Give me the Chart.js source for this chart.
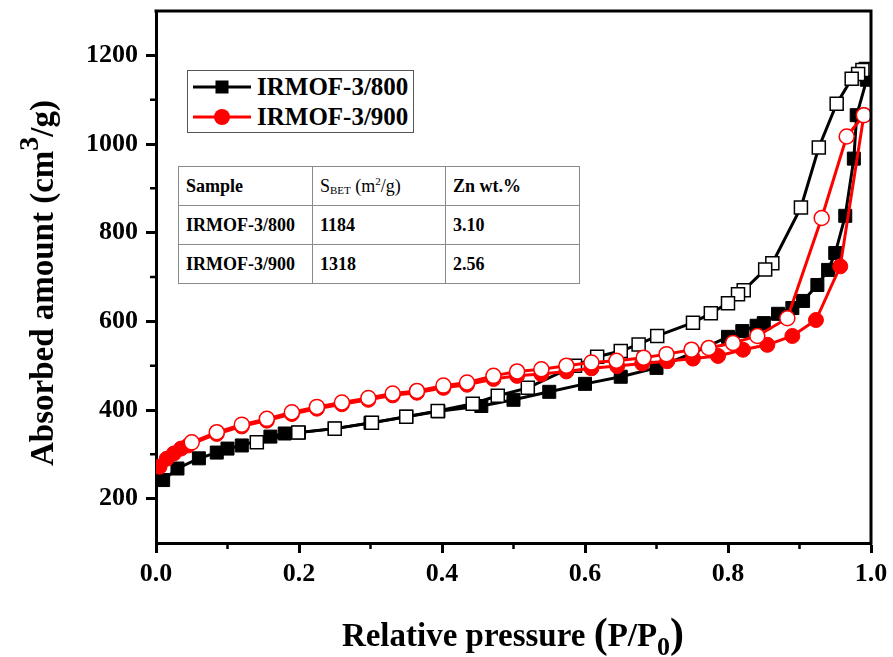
<!DOCTYPE html>
<html><head><meta charset="utf-8">
<script src="https://cdn.jsdelivr.net/npm/chart.js@4.4.1/dist/chart.umd.min.js"></script>
<style>
html,body{margin:0;padding:0;background:#fff;}
#wrap{position:relative;width:893px;height:657px;overflow:hidden;font-family:'Liberation Serif','Times New Roman',serif;color:#000;background:#fff;}
#c{position:absolute;left:0;top:0;}
.ov{position:absolute;font-weight:bold;white-space:nowrap;}
#legend{left:187px;top:70px;width:225px;height:61px;border:1px solid #555;background:#fff;}
.lrow{position:absolute;left:0;height:30px;width:225px;}
.lrow svg{position:absolute;left:4px;top:0;}
.lrow span{position:absolute;left:69px;top:0;line-height:30px;font-size:25px;font-weight:bold;}
#tbl{position:absolute;left:178px;top:166px;border-collapse:collapse;font-size:18px;background:#fff;}
#tbl td{border:1px solid #8a8a8a;padding:0 0 0 7px;font-weight:bold;height:38px;vertical-align:middle;}
#tbl td.n{font-weight:normal;}
#ytitle{left:-178px;top:267px;width:440px;height:32px;line-height:32px;font-size:33px;text-align:center;transform:rotate(-90deg);}
#xtitle{left:263px;top:611px;width:500px;height:42px;line-height:42px;font-size:33px;text-align:center;}
</style>
</head><body>
<div id="wrap">
<canvas id="c" width="893" height="657"></canvas>
<div id="legend" class="ov">
  <div class="lrow" style="top:1px;"><svg width="60" height="30"><line x1="1" y1="15" x2="59" y2="15" stroke="#000" stroke-width="3"/><rect x="23.5" y="8.5" width="13" height="13" fill="#000"/></svg><span>IRMOF-3/800</span></div>
  <div class="lrow" style="top:31px;"><svg width="60" height="30"><line x1="1" y1="15" x2="59" y2="15" stroke="#f00" stroke-width="3"/><circle cx="30" cy="15" r="8" fill="#f00"/></svg><span>IRMOF-3/900</span></div>
</div>
<table id="tbl">
<tr><td style="width:126px">Sample</td><td class="n" style="width:125px">S<sub style="font-size:11px;vertical-align:-2px">BET</sub> (m<sup style="font-size:11px">2</sup>/g)</td><td style="width:126px">Zn wt.%</td></tr>
<tr><td>IRMOF-3/800</td><td>1184</td><td>3.10</td></tr>
<tr><td>IRMOF-3/900</td><td>1318</td><td>2.56</td></tr>
</table>
<div id="ytitle" class="ov">Absorbed amount (cm<span style="font-size:28px;position:relative;top:-15px;">3</span>/g)</div>
<div id="xtitle" class="ov">Relative pressure <span style="font-size:42px;position:relative;top:1px;">(</span>P/P<span style="font-size:26px;position:relative;top:9px;">0</span><span style="font-size:42px;position:relative;top:1px;">)</span></div>
</div>
<script>
// Axis ticks
const xTicks=[0,0.2,0.4,0.6,0.8,1.0];
const xMinor=[0.1,0.3,0.5,0.7,0.9];
const yTicks=[200,400,600,800,1000,1200];
const yMinor=[300,500,700,900,1100];

// IRMOF-3/800 adsorption (filled squares)
const ads800P=[0.01,0.03,0.06,0.085,0.10,0.12,0.16,0.18,0.20,0.25,0.30,0.35,0.395,0.455,0.50,0.55,0.60,0.65,0.70,0.75,0.80,0.82,0.84,0.85,0.87,0.89,0.905,0.925,0.94,0.95,0.964,0.976,0.980,0.994];
const ads800V=[242,268,291,304,313,320,340,347,349,358,371,385,397,409,423,441,459,475,495,528,565,578,590,596,617,630,646,682,716,754,838,967,1065,1145];
// IRMOF-3/800 desorption (open squares)
const des800P=[0.993,0.988,0.982,0.973,0.952,0.927,0.902,0.862,0.852,0.822,0.814,0.800,0.776,0.751,0.701,0.675,0.650,0.617,0.586,0.520,0.478,0.443,0.394,0.350,0.302,0.250,0.199,0.141];
const des800V=[1169,1167,1158,1147,1091,992,857,731,717,670,661,641,618,597,567,548,533,520,500,450,432,414,398,385,371,358,349,327];
// IRMOF-3/900 adsorption (filled circles)
const ads900P=[0.005,0.015,0.025,0.035,0.045,0.085,0.12,0.155,0.19,0.225,0.26,0.297,0.331,0.365,0.402,0.435,0.472,0.505,0.539,0.574,0.609,0.645,0.68,0.715,0.751,0.786,0.821,0.855,0.89,0.923,0.957,0.99];
const ads900V=[272,290,302,313,320,346,363,376,391,403,413,423,433,439,450,457,470,477,481,487,494,499,505,510,516,522,536,547,567,603,724,1065];
// IRMOF-3/900 desorption (open circles)
const des900P=[0.99,0.966,0.931,0.883,0.841,0.807,0.773,0.749,0.714,0.682,0.644,0.609,0.574,0.539,0.505,0.472,0.435,0.402,0.365,0.331,0.297,0.26,0.225,0.19,0.155,0.12,0.085,0.05];
const des900V=[1065,1017,833,607,567,551,540,536,526,518,511,507,500,492,487,477,462,455,443,437,427,417,407,395,380,367,350,327];

const pts=(P,V)=>P.map((p,i)=>({x:p,y:V[i]}));
const FONT="'Liberation Serif','Times New Roman',serif";

const frame={
  id:'frame',
  afterDatasetsDraw(chart){
    const {ctx,chartArea:a,scales:{x,y}}=chart;
    ctx.save();
    ctx.strokeStyle='#000';
    ctx.lineWidth=3;
    ctx.beginPath();
    ctx.moveTo(a.left-1.5,a.top);ctx.lineTo(a.right,a.top);ctx.lineTo(a.right,a.bottom+1.5);
    ctx.stroke();
    ctx.lineWidth=2.5;
    ctx.beginPath();
    xMinor.forEach(v=>{const px=x.getPixelForValue(v);ctx.moveTo(px,a.bottom);ctx.lineTo(px,a.bottom+6);});
    yMinor.forEach(v=>{const py=y.getPixelForValue(v);ctx.moveTo(a.left,py);ctx.lineTo(a.left-6,py);});
    ctx.stroke();
    ctx.restore();
  }
};

const axisCommon={
  type:'linear',
  grid:{display:true,drawOnChartArea:false,drawTicks:true,tickLength:10,tickWidth:3,tickColor:'#000'},
  border:{display:true,width:3,color:'#000'},
  title:{display:false}
};

new Chart(document.getElementById('c'),{
  type:'scatter',
  data:{datasets:[
    {label:'IRMOF-3/900 des',data:pts(des900P,des900V),showLine:true,borderColor:'#f00',borderWidth:3,pointStyle:'circle',pointRadius:7.5,pointBackgroundColor:'#fff',pointBorderColor:'#f00',pointBorderWidth:1.5,order:0},
    {label:'IRMOF-3/900 ads',data:pts(ads900P,ads900V),showLine:true,borderColor:'#f00',borderWidth:3,pointStyle:'circle',pointRadius:7.5,pointBackgroundColor:'#f00',pointBorderColor:'#f00',pointBorderWidth:1,order:1},
    {label:'IRMOF-3/800 des',data:pts(des800P,des800V),showLine:true,borderColor:'#000',borderWidth:3,pointStyle:'rect',pointRadius:9.2,pointBackgroundColor:'#fff',pointBorderColor:'#000',pointBorderWidth:1.5,order:2},
    {label:'IRMOF-3/800 ads',data:pts(ads800P,ads800V),showLine:true,borderColor:'#000',borderWidth:3,pointStyle:'rect',pointRadius:9.2,pointBackgroundColor:'#000',pointBorderColor:'#000',pointBorderWidth:1,order:3}
  ]},
  options:{
    responsive:false,animation:false,
    layout:{padding:{left:0,top:11,right:22,bottom:0}},
    plugins:{legend:{display:false},tooltip:{enabled:false}},
    elements:{line:{tension:0}},
    scales:{
      x:Object.assign({},axisCommon,{
        position:'bottom',min:0,max:1,
        afterBuildTicks:s=>{s.ticks=xTicks.map(v=>({value:v}));},
        afterFit:s=>{s.height=114;s.paddingLeft=0;s.paddingRight=0;},
        ticks:{color:'#000',padding:6,font:{family:FONT,size:26,weight:'bold'},callback:v=>Number(v).toFixed(1),maxRotation:0,autoSkip:false}
      }),
      y:Object.assign({},axisCommon,{
        position:'left',min:100,max:1300,
        afterBuildTicks:s=>{s.ticks=yTicks.map(v=>({value:v}));},
        afterFit:s=>{s.width=156;s.paddingTop=0;s.paddingBottom=0;},
        ticks:{color:'#000',padding:8,font:{family:FONT,size:26,weight:'bold'},callback:v=>String(v),autoSkip:false}
      })
    }
  },
  plugins:[frame]
});
</script>
</body></html>
